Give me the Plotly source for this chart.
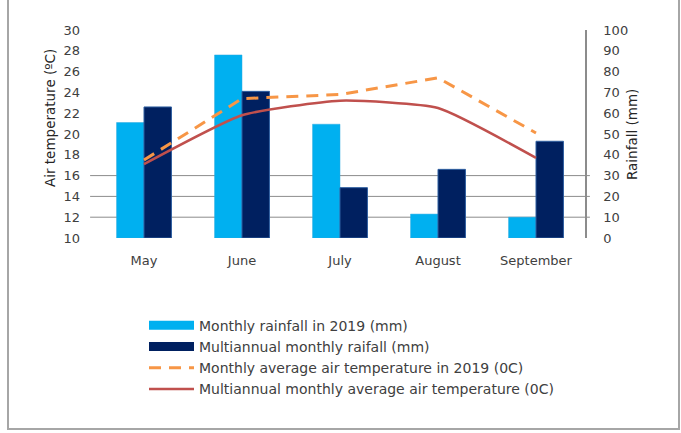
import plotly.graph_objects as go

months = ["May", "June", "July", "August", "September"]
rain_2019 = [55.5, 88, 54.7, 11.5, 10]
rain_multi = [63, 70.5, 24.2, 33, 46.5]
temp_2019 = [17.5, 23.4, 23.8, 25.4, 20.1]
temp_multi = [17.1, 21.8, 23.2, 22.5, 17.7]
temp_ticks = list(range(10, 31, 2))
rain_ticks = list(range(0, 101, 10))
grid_levels = [12, 14, 16]

names = ["Monthly rainfall in 2019 (mm)",
         "Multiannual monthly raifall (mm)",
         "Monthly average air temperature in 2019 (0C)",
         "Multiannual monthly average air temperature (0C)"]
LIGHT, DARK, ORANGE, RED = "#00B0F0", "#002060", "#F79646", "#C0504D"

FONT = "DejaVu Sans"
TXT = "#404040"

fig = go.Figure()
fig.add_trace(go.Bar(x=months, y=rain_2019, name=names[0], showlegend=False,
                     marker=dict(color=LIGHT, line=dict(color="#2aa8e0", width=0.5)),
                     yaxis="y"))
fig.add_trace(go.Bar(x=months, y=rain_multi, name=names[1], showlegend=False,
                     marker=dict(color=DARK, line=dict(color="#2f5fa0", width=1)),
                     yaxis="y"))
# legend keys for the bar series (wide colour swatches, as in the original)
fig.add_trace(go.Scatter(x=[None], y=[None], name=names[0], mode="lines",
                         line=dict(color=LIGHT, width=9), yaxis="y"))
fig.add_trace(go.Scatter(x=[None], y=[None], name=names[1], mode="lines",
                         line=dict(color=DARK, width=9), yaxis="y"))
fig.add_trace(go.Scatter(x=months, y=temp_2019, name=names[2],
                         mode="lines", line=dict(color=ORANGE, width=3, dash="12px,8px"),
                         yaxis="y2"))
fig.add_trace(go.Scatter(x=months, y=temp_multi, name=names[3],
                         mode="lines", line=dict(color=RED, width=2.5, shape="spline", smoothing=0.5),
                         yaxis="y2"))

for g in grid_levels:
    fig.add_shape(type="line", xref="paper", x0=-0.01, x1=1.01, yref="y2", y0=g, y1=g,
                  line=dict(color="#8c8c8c", width=1), layer="below")

# outer frame (left, right, bottom)
fig.add_shape(type="path", xref="paper", yref="paper",
              path="M %f %f L %f %f L %f %f L %f %f" % (
                  (8 - 95) / 490, (238 + 10) / 208,
                  (8 - 95) / 490, (238 - 429) / 208,
                  (679 - 95) / 490, (238 - 429) / 208,
                  (679 - 95) / 490, (238 + 10) / 208),
              line=dict(color="#a6a6a6", width=2))

fig.update_layout(
    width=681, height=433,
    margin=dict(l=95, r=96, t=30, b=195),
    paper_bgcolor="white", plot_bgcolor="white",
    font=dict(family=FONT, size=13, color=TXT),
    barmode="group", bargap=0.44, bargroupgap=0,
    showlegend=True,
    legend=dict(x=0.1, y=-0.345, xanchor="left", yanchor="top",
                font=dict(family=FONT, size=14, color=TXT),
                itemwidth=45, tracegroupgap=0, bgcolor="rgba(0,0,0,0)"),
    xaxis=dict(showgrid=False, showline=False, ticks="", tickfont=dict(size=13, color=TXT),
               ticklabelstandoff=13),
    yaxis=dict(side="right", range=[0, 100], tickvals=rain_ticks, showgrid=False,
               showline=True, linecolor="#8c8c8c", linewidth=1.5, ticks="",
               ticklabelstandoff=14, tickfont=dict(size=13, color=TXT), zeroline=False),
    yaxis2=dict(side="left", overlaying="y", range=[10, 30], tickvals=temp_ticks,
                showgrid=False, showline=False, ticks="", ticklabelstandoff=14,
                tickfont=dict(size=13, color=TXT), zeroline=False),
    annotations=[
        dict(text="Air temperature (ºC)", xref="paper", yref="paper",
             x=(40 - 95) / 490, y=(238 - 118) / 208, textangle=-90, showarrow=False,
             font=dict(family=FONT, size=13.5, color="#262626")),
        dict(text="Rainfall (mm)", xref="paper", yref="paper",
             x=(642 - 95) / 490, y=(238 - 135) / 208, textangle=-90, showarrow=False,
             font=dict(family=FONT, size=13.5, color="#262626")),
    ],
)

fig.write_html("out.html")
